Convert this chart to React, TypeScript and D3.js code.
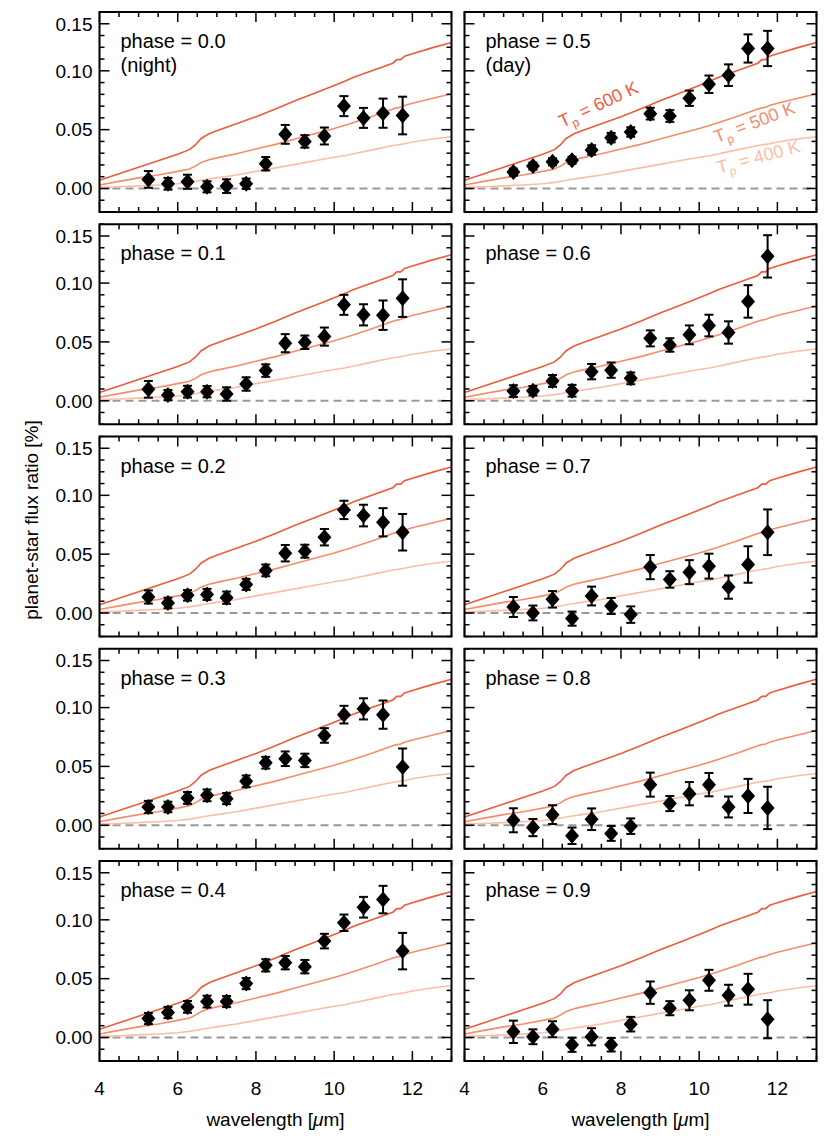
import React from "react";
import * as d3 from "d3";

// channel centres [um]
const wavelengths = [5.25, 5.75, 6.25, 6.75, 7.25, 7.75, 8.25, 8.75, 9.25, 9.75, 10.25, 10.75, 11.25, 11.75];

// planet-star flux ratio [%] and 1-sigma errors, per orbital phase
const phase00 = [0.0077, 0.004, 0.0057, 0.0014, 0.002, 0.004, 0.021, 0.046, 0.04, 0.0446, 0.07, 0.06, 0.064, 0.062];
const phase00Err = [0.0071, 0.005, 0.006, 0.0047, 0.0058, 0.0044, 0.0057, 0.008, 0.0053, 0.0072, 0.0085, 0.0085, 0.0124, 0.016];
const phase01 = [0.0097, 0.0048, 0.0077, 0.0077, 0.0057, 0.0142, 0.0256, 0.0489, 0.0497, 0.0545, 0.0815, 0.073, 0.0727, 0.0872];
const phase01Err = [0.0071, 0.0043, 0.005, 0.0048, 0.0057, 0.0057, 0.0053, 0.0077, 0.0057, 0.0077, 0.0085, 0.009, 0.0125, 0.016];
const phase02 = [0.0136, 0.0085, 0.015, 0.0158, 0.013, 0.0243, 0.0362, 0.0508, 0.0525, 0.0644, 0.0876, 0.0828, 0.0771, 0.0686];
const phase02Err = [0.0056, 0.0045, 0.0045, 0.0047, 0.0052, 0.0047, 0.005, 0.007, 0.0055, 0.007, 0.0078, 0.0092, 0.012, 0.0155];
const phase03 = [0.0155, 0.0155, 0.0232, 0.0254, 0.0226, 0.0373, 0.0531, 0.0565, 0.0551, 0.0763, 0.094, 0.0989, 0.094, 0.0494];
const phase03Err = [0.0052, 0.0045, 0.005, 0.005, 0.0047, 0.005, 0.005, 0.0062, 0.0057, 0.0062, 0.0075, 0.009, 0.012, 0.0158];
const phase04 = [0.0161, 0.0212, 0.026, 0.0305, 0.0305, 0.0458, 0.0613, 0.0636, 0.0602, 0.0819, 0.0975, 0.1107, 0.1172, 0.0734];
const phase04Err = [0.0047, 0.0048, 0.005, 0.005, 0.0047, 0.0047, 0.0052, 0.0057, 0.0057, 0.0062, 0.007, 0.0088, 0.0117, 0.0155];
const phase05 = [0.0139, 0.019, 0.0227, 0.024, 0.0327, 0.0432, 0.048, 0.0636, 0.0616, 0.0767, 0.0886, 0.0963, 0.119, 0.119];
const phase05Err = [0.003, 0.003, 0.003, 0.003, 0.004, 0.004, 0.004, 0.005, 0.005, 0.0065, 0.0074, 0.0092, 0.012, 0.015];
const phase06 = [0.0082, 0.0085, 0.0168, 0.0085, 0.0247, 0.026, 0.019, 0.053, 0.0474, 0.056, 0.0639, 0.058, 0.0844, 0.1227];
const phase06Err = [0.005, 0.004, 0.005, 0.005, 0.0065, 0.0065, 0.005, 0.0068, 0.0057, 0.008, 0.0092, 0.0095, 0.0138, 0.018];
const phase07 = [0.0051, 0.0, 0.0116, -0.0048, 0.0144, 0.0059, -0.0014, 0.039, 0.0285, 0.0347, 0.0398, 0.022, 0.0412, 0.0686];
const phase07Err = [0.0085, 0.0063, 0.007, 0.006, 0.008, 0.0068, 0.007, 0.0103, 0.007, 0.0102, 0.0106, 0.0099, 0.0155, 0.0194];
const phase08 = [0.0042, -0.002, 0.009, -0.009, 0.0051, -0.007, -0.0008, 0.0345, 0.0184, 0.0268, 0.0345, 0.0155, 0.0249, 0.0147];
const phase08Err = [0.0102, 0.0073, 0.008, 0.007, 0.0092, 0.0063, 0.0066, 0.0102, 0.0064, 0.0099, 0.0099, 0.0089, 0.0145, 0.018];
const phase09 = [0.0048, 0.0006, 0.007, -0.0062, 0.0006, -0.0062, 0.0113, 0.0381, 0.0249, 0.0316, 0.0486, 0.0359, 0.041, 0.0155];
const phase09Err = [0.0095, 0.0063, 0.0068, 0.006, 0.0073, 0.0057, 0.0062, 0.0095, 0.006, 0.0085, 0.0089, 0.0089, 0.0131, 0.0162];

const phaseLabels = ["0.0", "0.1", "0.2", "0.3", "0.4", "0.5", "0.6", "0.7", "0.8", "0.9"];
const phaseNotes = ["(night)", "", "", "", "", "(day)", "", "", "", ""];
const phaseFlux = [phase00, phase01, phase02, phase03, phase04, phase05, phase06, phase07, phase08, phase09];
const phaseErr = [phase00Err, phase01Err, phase02Err, phase03Err, phase04Err, phase05Err, phase06Err, phase07Err, phase08Err, phase09Err];

// blackbody planet models
const modelWl = [4.0, 4.5, 5.0, 5.5, 6.0, 6.3, 6.45, 6.6, 6.8, 7.0, 7.5, 8.0, 8.5, 9.0, 9.5, 10.0, 10.3, 10.5, 11.0, 11.5, 11.6, 11.7, 11.8, 12.0, 12.5, 13.0];
const model600 = [0.007, 0.0125, 0.018, 0.0235, 0.029, 0.033, 0.037, 0.0425, 0.0465, 0.049, 0.055, 0.061, 0.0675, 0.0745, 0.081, 0.0875, 0.0915, 0.0945, 0.1005, 0.1065, 0.1095, 0.1095, 0.1125, 0.1145, 0.1195, 0.124];
const model500 = [0.003, 0.006, 0.009, 0.0115, 0.0145, 0.0165, 0.019, 0.022, 0.0245, 0.026, 0.0295, 0.0335, 0.0375, 0.042, 0.0465, 0.051, 0.054, 0.056, 0.0615, 0.0675, 0.0685, 0.069, 0.0705, 0.0725, 0.0765, 0.0805];
const model400 = [0.001, 0.0015, 0.0022, 0.003, 0.004, 0.0052, 0.006, 0.007, 0.008, 0.009, 0.0115, 0.0145, 0.0175, 0.0205, 0.0235, 0.0265, 0.028, 0.0295, 0.033, 0.0365, 0.037, 0.0375, 0.038, 0.0395, 0.042, 0.044];
const modelTemps = ["600", "500", "400"];
const modelColors = ["#f05a3c", "#f78c6c", "#fbbda6"];
const modelSeries = [model600, model500, model400];
// where the labels sit, in data units (wl, flux), and their tilt
const modelLabelPos = [[6.5, 0.0515], [10.45, 0.0385], [10.5, 0.0125]];
const modelLabelAngle = [-25, -21, -15];

const xMajor = [4, 6, 8, 10, 12];
const yMajor = [0, 0.05, 0.1, 0.14];
const yMajorLabels = ["0.00", "0.05", "0.10", "0.15"];

const FONT = "'Liberation Sans', Arial, Helvetica, sans-serif";
const W = 352;
const H = 200;
const colX = [99.5, 464.5];
const rowY0 = 12;
const rowStep = 212.25;

function Panel({ idx }: { idx: number }) {
  const col = idx < 5 ? 0 : 1;
  const row = idx % 5;
  const x0 = colX[col];
  const y0 = rowY0 + row * rowStep;
  const x = d3.scaleLinear().domain([4, 13]).range([x0, x0 + W]);
  const y = d3.scaleLinear().domain([-0.02, 0.15]).range([y0 + H, y0]);
  const line = d3
    .line<number>()
    .x((_, i) => x(modelWl[i]))
    .y((d) => y(d));
  const clipId = `clip${idx}`;
  const flux = phaseFlux[idx];
  const err = phaseErr[idx];
  const xMinor = x.ticks(18).filter((t) => !xMajor.includes(t));
  const yMinor = y.ticks(17).filter((t) => !yMajor.some((m) => Math.abs(m - t) < 1e-6));

  return (
    <g>
      <defs>
        <clipPath id={clipId}>
          <rect x={x0} y={y0} width={W} height={H} />
        </clipPath>
      </defs>
      <g clipPath={`url(#${clipId})`}>
        <line x1={x0} x2={x0 + W} y1={y(0)} y2={y(0)} stroke="#999" strokeWidth={2} strokeDasharray="8,5" />
        {modelSeries.map((s, i) => (
          <path key={i} d={line(s) || ""} fill="none" stroke={modelColors[i]} strokeWidth={1.6} />
        ))}
      </g>
      {/* data with error bars */}
      {flux.map((v, i) => {
        const cx = x(wavelengths[i]);
        const lo = y(v - err[i]);
        const hi = y(v + err[i]);
        return (
          <g key={i} stroke="#000" strokeWidth={2}>
            <line x1={cx} x2={cx} y1={lo} y2={hi} />
            <line x1={cx - 4.5} x2={cx + 4.5} y1={lo} y2={lo} />
            <line x1={cx - 4.5} x2={cx + 4.5} y1={hi} y2={hi} />
            <path d="M0,-8L7,0L0,8L-7,0Z" transform={`translate(${cx},${y(v)})`} fill="#000" stroke="none" />
          </g>
        );
      })}
      {/* ticks on all four sides */}
      <g stroke="#000" strokeWidth={1.5}>
        {xMajor.map((t) => (
          <g key={`xM${t}`}>
            <line x1={x(t)} x2={x(t)} y1={y0 + H} y2={y0 + H - 10} />
            <line x1={x(t)} x2={x(t)} y1={y0} y2={y0 + 10} />
          </g>
        ))}
        {xMinor.map((t) => (
          <g key={`xm${t}`}>
            <line x1={x(t)} x2={x(t)} y1={y0 + H} y2={y0 + H - 5} />
            <line x1={x(t)} x2={x(t)} y1={y0} y2={y0 + 5} />
          </g>
        ))}
        {yMajor.map((t) => (
          <g key={`yM${t}`}>
            <line x1={x0} x2={x0 + 10} y1={y(t)} y2={y(t)} />
            <line x1={x0 + W} x2={x0 + W - 10} y1={y(t)} y2={y(t)} />
          </g>
        ))}
        {yMinor.map((t) => (
          <g key={`ym${t}`}>
            <line x1={x0} x2={x0 + 5} y1={y(t)} y2={y(t)} />
            <line x1={x0 + W} x2={x0 + W - 5} y1={y(t)} y2={y(t)} />
          </g>
        ))}
      </g>
      <rect x={x0} y={y0} width={W} height={H} fill="none" stroke="#000" strokeWidth={2} />
      {/* labels */}
      <text x={x0 + 21} y={y0 + 36} fontSize={20} fontFamily={FONT}>
        phase = {phaseLabels[idx]}
      </text>
      {phaseNotes[idx] && (
        <text x={x0 + 21} y={y0 + 60} fontSize={20} fontFamily={FONT}>
          {phaseNotes[idx]}
        </text>
      )}
      {col === 0 &&
        yMajor.map((t, i) => (
          <text key={`yl${t}`} x={x0 - 7} y={y(t)} dy="0.36em" textAnchor="end" fontSize={19} fontFamily={FONT}>
            {yMajorLabels[i]}
          </text>
        ))}
      {row === 4 &&
        xMajor.map((t) => (
          <text key={`xl${t}`} x={x(t)} y={y0 + H + 34} textAnchor="middle" fontSize={19} fontFamily={FONT}>
            {t}
          </text>
        ))}
      {row === 4 && (
        <text x={x0 + W / 2} y={y0 + H + 65} textAnchor="middle" fontSize={19} fontFamily={FONT}>
          wavelength [<tspan fontStyle="italic">μ</tspan>m]
        </text>
      )}
      {idx === 5 &&
        modelTemps.map((T, i) => (
          <text
            key={T}
            transform={`translate(${x(modelLabelPos[i][0])},${y(modelLabelPos[i][1])}) rotate(${modelLabelAngle[i]})`}
            fontSize={18}
            fontFamily={FONT}
            fill={modelColors[i]}
          >
            T<tspan fontSize={12} dy={5}>p</tspan>
            <tspan dy={-5}> = {T} K</tspan>
          </text>
        ))}
    </g>
  );
}

export default function App() {
  return (
    <svg
      width={830}
      height={1142}
      style={{ position: "absolute", left: 0, top: 0, background: "#fff" }}
    >
      {phaseLabels.map((_, i) => (
        <Panel key={i} idx={i} />
      ))}
      <text
        transform="translate(38,520) rotate(-90)"
        textAnchor="middle"
        fontSize={19}
        fontFamily={FONT}
      >
        planet-star flux ratio [%]
      </text>
    </svg>
  );
}
